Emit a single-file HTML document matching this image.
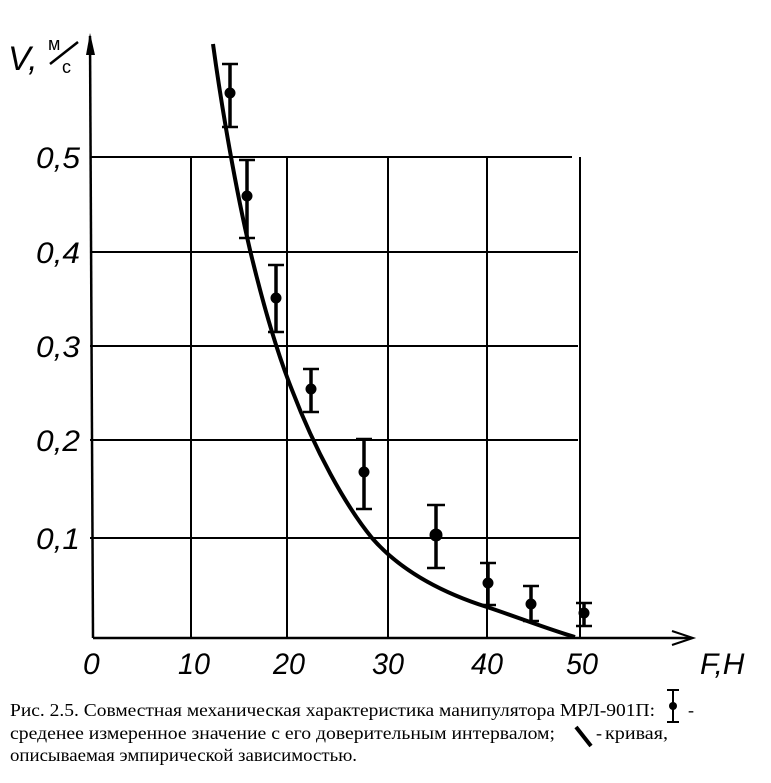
<!DOCTYPE html>
<html><head><meta charset="utf-8"><style>html,body{margin:0;padding:0;background:#fff}svg{display:block}</style></head>
<body>
<svg width="771" height="783" viewBox="0 0 771 783" xmlns="http://www.w3.org/2000/svg">
<g stroke="#000" stroke-width="2" fill="none">
<line x1="90" y1="157" x2="572" y2="157"/>
<line x1="90" y1="252" x2="578" y2="252"/>
<line x1="90" y1="346" x2="578" y2="346"/>
<line x1="90" y1="440" x2="578" y2="440"/>
<line x1="90" y1="538" x2="580" y2="538"/>
<line x1="191" y1="157" x2="191" y2="638"/>
<line x1="287" y1="157" x2="287" y2="638"/>
<line x1="388" y1="157" x2="388" y2="638"/>
<line x1="487" y1="157" x2="487" y2="638"/>
<line x1="580" y1="157" x2="580" y2="638"/>
</g>
<g stroke="#000" stroke-width="2.5" fill="none">
<line x1="90" y1="36" x2="93" y2="638"/>
<line x1="93" y1="638" x2="692" y2="638"/>
<polyline points="672,631 693,638 672,645" stroke-width="2"/>
</g>
<polygon points="90,33 86,55 95,55" fill="#000"/>
<path d="M213,44 C222,110 236,190 250,250 C262,300 276,350 292,390 C315,450 345,505 372,538 C400,570 440,592 487,607 C520,618 550,630 575,637" stroke="#000" stroke-width="4" fill="none"/>
<g stroke="#000" fill="#000">
<g stroke-width="3.5">
<line x1="230" y1="64" x2="230" y2="127"/><line x1="247" y1="160" x2="247" y2="238"/>
<line x1="276" y1="265" x2="276" y2="332"/><line x1="311" y1="369" x2="311" y2="412"/>
<line x1="364" y1="439" x2="364" y2="509"/><line x1="436" y1="505" x2="436" y2="568"/>
<line x1="488" y1="563" x2="488" y2="605"/><line x1="531" y1="586" x2="531" y2="621"/>
<line x1="584" y1="603" x2="584" y2="626"/>
</g>
<g stroke-width="2.5">
<path d="M222,64h16M222,127h16M239,160h16M239,238h16M268,265h16M268,332h16M303,369h16M303,412h16M356,439h16M356,509h16M427,505h18M427,568h18M480,563h16M480,605h16M523,586h16M523,621h16M576,603h16M576,626h16"/>
</g>
<circle cx="230" cy="93" r="5"/><circle cx="247" cy="196" r="5"/><circle cx="276" cy="298" r="5"/>
<circle cx="311" cy="389" r="5"/><circle cx="364" cy="472" r="5"/><circle cx="436" cy="535" r="6"/>
<circle cx="488" cy="583" r="5"/><circle cx="531" cy="604" r="5"/><circle cx="584" cy="613" r="5"/>
</g>
<g font-family="Liberation Sans, sans-serif" font-style="italic" font-size="30" fill="#000">
<text x="36" y="168" textLength="44" lengthAdjust="spacingAndGlyphs">0,5</text>
<text x="36" y="263" textLength="44" lengthAdjust="spacingAndGlyphs">0,4</text>
<text x="36" y="357" textLength="44" lengthAdjust="spacingAndGlyphs">0,3</text>
<text x="36" y="451" textLength="44" lengthAdjust="spacingAndGlyphs">0,2</text>
<text x="36" y="549" textLength="44" lengthAdjust="spacingAndGlyphs">0,1</text>
<text x="83" y="674">0</text><text x="178" y="674" textLength="32" lengthAdjust="spacingAndGlyphs">10</text>
<text x="273" y="674" textLength="32" lengthAdjust="spacingAndGlyphs">20</text>
<text x="372" y="674" textLength="32" lengthAdjust="spacingAndGlyphs">30</text>
<text x="471" y="674" textLength="32" lengthAdjust="spacingAndGlyphs">40</text>
<text x="566" y="674" textLength="32" lengthAdjust="spacingAndGlyphs">50</text>
<text x="700" y="674">F,Н</text>
<text x="8" y="70" font-size="34">V,</text>
</g>
<g font-family="Liberation Sans, sans-serif" font-size="18" fill="#000">
<text x="48" y="50">м</text><text x="62" y="73">с</text>
</g>
<line x1="50" y1="64" x2="78" y2="42" stroke="#000" stroke-width="2.5"/>
<g font-family="Liberation Serif, serif" font-size="18" fill="#000">
<text x="10" y="716" textLength="645" lengthAdjust="spacingAndGlyphs">Рис. 2.5. Совместная механическая характеристика манипулятора МРЛ-901П:</text>
<text x="688" y="716">-</text>
<text x="10" y="739" textLength="545" lengthAdjust="spacingAndGlyphs">среденее измеренное значение с его доверительным интервалом;</text>
<text x="596" y="739">-</text>
<text x="605" y="739" textLength="63" lengthAdjust="spacingAndGlyphs">кривая,</text>
<text x="10" y="761" textLength="347" lengthAdjust="spacingAndGlyphs">описываемая эмпирической зависимостью.</text>
</g>
<g stroke="#000" stroke-width="2">
<line x1="673" y1="690" x2="673" y2="722"/><line x1="667" y1="690" x2="679" y2="690"/><line x1="667" y1="722" x2="679" y2="722"/>
</g>
<circle cx="673" cy="706" r="4" fill="#000"/>
<line x1="576" y1="727" x2="591" y2="746" stroke="#000" stroke-width="4"/>
</svg>
</body></html>
